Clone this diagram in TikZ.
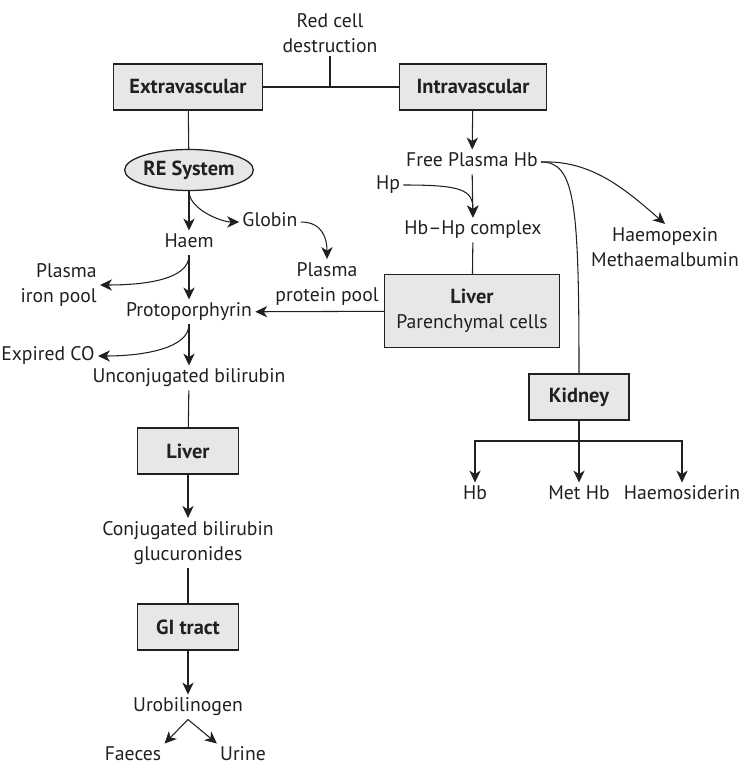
\documentclass[tikz,border=0pt]{standalone}
\usepackage{fontspec}
\setmainfont{PT Sans}
\usepackage{tikz}
\usetikzlibrary{arrows.meta,shapes.geometric}
\definecolor{ink}{HTML}{231F20}
\definecolor{boxgray}{HTML}{E6E7E8}

\begin{document}
\begin{tikzpicture}[x=0.025cm, y=-0.025cm, every node/.style={font=\fontsize{14}{18}\selectfont, text=ink}, >={Stealth[length=8.5pt, width=8pt, inset=2.5pt]}, line width=0.75pt, draw=ink,
	box/.style={draw=ink, line width=0.9pt, fill=boxgray, minimum width=2.525cm, minimum height=1.15cm, inner sep=2pt, font=\fontsize{14.5}{18}\selectfont\bfseries},
	oval/.style={ellipse, draw=ink, line width=0.9pt, fill=boxgray, minimum width=3.025cm, minimum height=1.025cm, inner sep=0pt, font=\fontsize{14.5}{18}\selectfont\bfseries},
	txt/.style={inner sep=2pt, text height=10pt, text depth=3pt},
	mtxt/.style={inner sep=2pt, align=center}]
	\useasboundingbox (0,0) rectangle (740,766);
	\node[mtxt] (rcd) at (330,33) {Red cell\\destruction};
	\coordinate (junc) at (330,87);
	\node[box, minimum width=3.725cm] (extra) at (188,87) {Extravascular};
	\node[box, minimum width=3.675cm] (intra) at (473,87) {Intravascular};
	\node[oval] (re) at (189,170) {RE System};
	\node[txt] (haem) at (189,243) {Haem};
	\node[txt] (globin) at (270,222) {Globin};
	\node[mtxt] (protpool) at (327,284) {Plasma\\protein pool};
	\node[mtxt, anchor=east, align=right] (ironpool) at (100,285) {Plasma\\iron pool};
	\node[txt] (proto) at (189,312) {Protoporphyrin};
	\node[txt, anchor=east] (expco) at (98,356) {Expired CO};
	\node[txt] (unconj) at (189,378) {Unconjugated bilirubin};
	\node[box] (liver) at (188,451) {Liver};
	\node[mtxt] (conj) at (188,543) {Conjugated bilirubin\\glucuronides};
	\node[box] (gi) at (188,627) {GI tract};
	\node[txt] (uro) at (188,707) {Urobilinogen};
	\node[txt] (faeces) at (133,756) {Faeces};
	\node[txt] (urine) at (243,756) {Urine};
	\node[txt] (fph) at (472,162) {Free Plasma Hb};
	\node[txt] (hp) at (388,185) {Hp};
	\node[txt] (hbhp) at (473,230) {Hb--Hp complex};
	\node[mtxt] (haemo) at (665,247) {Haemopexin\\Methaemalbumin};
	\node[box, minimum width=4.375cm, minimum height=1.825cm, font=\fontsize{14}{18}\selectfont, align=center] (liverp) at (472,311) {\textbf{\fontsize{14.5}{18}\selectfont Liver}\\Parenchymal cells};
	\node[box, minimum width=2.5cm] (kidney) at (579,397) {Kidney};
	\coordinate (ksplit) at (579,441);
	\node[txt] (hb) at (475,495) {Hb};
	\node[txt] (methb) at (579,495) {Met Hb};
	\node[txt] (haemosid) at (682,495) {Haemosiderin};
	\draw (rcd) -- (junc);
	\draw (extra) -- (intra);
	\draw (extra) -- (re);
	\draw[->] (re) -- (haem);
	\draw[->] (re.south) .. controls +(0,18) and +(-18,0) .. (globin.west);
	\draw[->] (globin.east) .. controls +(22,0) and +(0,-20) .. (protpool.north);
	\draw[->] (haem) -- (proto);
	\draw[->] (haem.south) .. controls +(0,24) and +(45,0) .. (ironpool.east);
	\draw[->] (liverp) -- (proto);
	\draw[->] (proto) -- (unconj);
	\draw[->] (proto.south) .. controls +(0,24) and +(45,0) .. (expco.east);
	\draw (unconj) -- (liver);
	\draw[->] (liver) -- (conj);
	\draw (conj) -- (gi);
	\draw[->] (gi) -- (uro);
	\draw[->] (uro.south) -- (faeces.north east);
	\draw[->] (uro.south) -- (urine.north west);
	\draw[->] (intra) -- (fph);
	\draw[->] (fph) -- (hbhp);
	\draw[->] (hp.east) .. controls +(58,0) and +(0,-28) .. (hbhp.north);
	\draw (hbhp) -- (liverp);
	\draw[->] (fph.east) .. controls +(50,-2) and +(-40,-35) .. (haemo.north);
	\draw (fph.east) .. controls +(34,0) and +(0,-170) .. (kidney.north);
	\draw (kidney) -- (ksplit);
	\draw[->] (ksplit) -| (hb);
	\draw[->] (ksplit) -- (methb);
	\draw[->] (ksplit) -| (haemosid);
	\end{tikzpicture}
\end{document}
